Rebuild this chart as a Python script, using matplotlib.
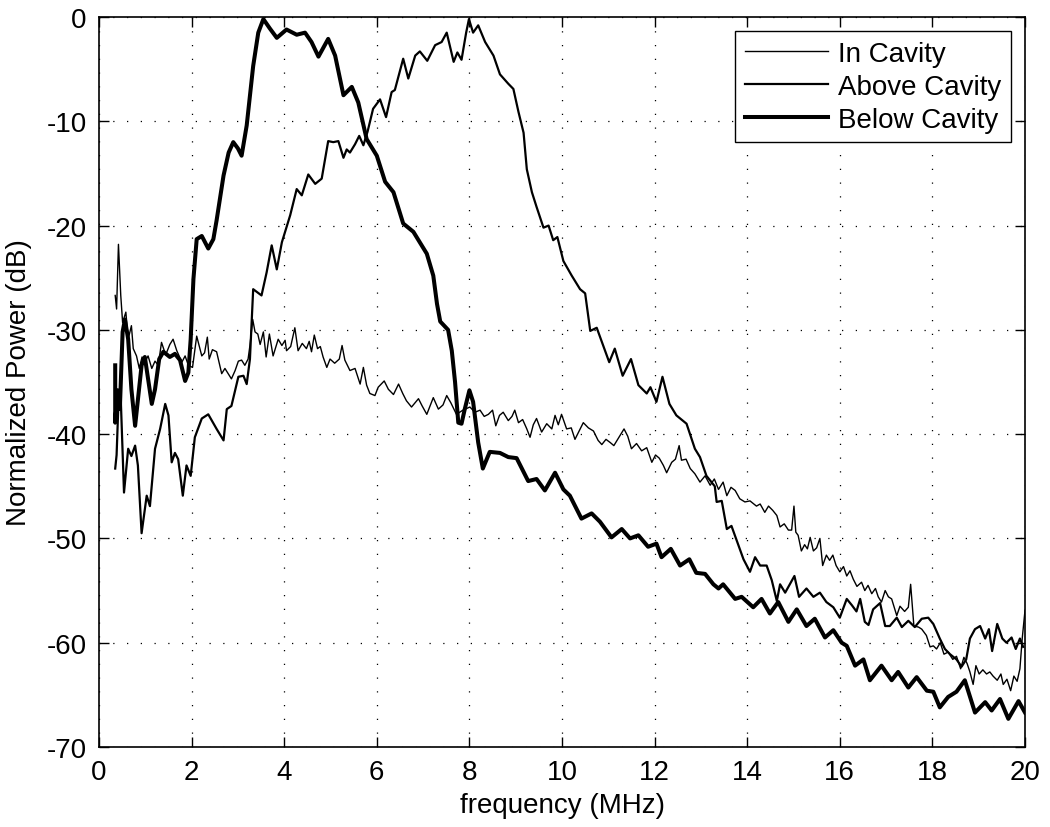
import matplotlib
matplotlib.use("Agg")
import matplotlib.pyplot as plt

plt.rcParams['font.family'] = ['Liberation Sans', 'DejaVu Sans']

# ---------------- data ----------------
freq_in = [0.35, 0.38, 0.42, 0.47, 0.51, 0.58, 0.63, 0.70, 0.74, 0.81, 0.87, 0.93, 0.99, 1.06, 1.14, 1.21,
           1.28, 1.35, 1.44, 1.53, 1.60, 1.68, 1.79, 1.86, 1.93, 2.02, 2.11, 2.22, 2.28, 2.34, 2.38, 2.45,
           2.54, 2.65, 2.72, 2.79, 2.86, 2.94, 3.01, 3.08, 3.15, 3.22, 3.26, 3.32, 3.37, 3.43, 3.48, 3.55,
           3.61, 3.68, 3.76, 3.87, 3.95, 4.02, 4.05, 4.14, 4.23, 4.30, 4.39, 4.48, 4.54, 4.59, 4.65, 4.72,
           4.78, 4.84, 4.92, 4.99, 5.09, 5.19, 5.25, 5.31, 5.42, 5.53, 5.64, 5.71, 5.78, 5.85, 5.96, 6.03,
           6.16, 6.25, 6.36, 6.47, 6.56, 6.64, 6.75, 6.90, 6.98, 7.08, 7.22, 7.33, 7.43, 7.51, 7.60, 7.72,
           7.86, 8.01, 8.12, 8.23, 8.32, 8.41, 8.50, 8.57, 8.65, 8.73, 8.84, 8.92, 8.98, 9.06, 9.15, 9.24,
           9.31, 9.38, 9.45, 9.56, 9.67, 9.78, 9.85, 9.92, 9.99, 10.10, 10.20, 10.28, 10.37, 10.46, 10.57,
           10.68, 10.78, 10.86, 10.95, 11.04, 11.12, 11.23, 11.34, 11.42, 11.50, 11.61, 11.72, 11.83, 11.94,
           12.02, 12.10, 12.19, 12.26, 12.37, 12.45, 12.53, 12.58, 12.68, 12.77, 12.87, 12.98, 13.09, 13.20,
           13.29, 13.38, 13.48, 13.56, 13.65, 13.74, 13.84, 13.95, 14.06, 14.20, 14.28, 14.38, 14.46, 14.55,
           14.64, 14.71, 14.80, 14.89, 14.96, 15.01, 15.05, 15.10, 15.17, 15.24, 15.30, 15.36, 15.43, 15.50,
           15.57, 15.63, 15.71, 15.78, 15.85, 15.92, 16.00, 16.08, 16.15, 16.22, 16.29, 16.37, 16.47, 16.54,
           16.61, 16.69, 16.77, 16.83, 16.90, 16.98, 17.05, 17.12, 17.23, 17.30, 17.40, 17.48, 17.53, 17.60,
           17.70, 17.77, 17.87, 17.95, 18.02, 18.09, 18.17, 18.25, 18.34, 18.44, 18.52, 18.61, 18.68, 18.75,
           18.81, 18.88, 18.94, 19.01, 19.09, 19.17, 19.24, 19.31, 19.40, 19.48, 19.53, 19.61, 19.69, 19.76,
           19.83, 19.89, 19.94, 20.00]
power_in = [-26.7, -28.0, -21.8, -26.7, -29.3, -28.3, -30.9, -29.6, -31.8, -32.5, -33.7, -32.6, -33.1, -32.5,
            -33.7, -33.0, -33.4, -31.2, -32.4, -31.4, -30.9, -32.0, -33.1, -32.5, -33.4, -33.6, -30.6, -32.5,
            -32.2, -30.7, -32.8, -31.9, -32.1, -34.2, -33.7, -34.2, -34.7, -33.9, -33.0, -32.9, -33.4, -32.8,
            -31.5, -29.0, -30.2, -30.4, -31.4, -30.2, -32.6, -30.4, -32.5, -30.9, -31.5, -31.0, -32.0, -31.6,
            -29.8, -32.0, -31.3, -31.8, -31.1, -32.1, -30.5, -31.8, -31.6, -32.6, -33.6, -32.8, -33.2, -32.8,
            -31.5, -32.9, -33.9, -33.7, -35.2, -33.6, -35.3, -36.1, -36.3, -35.5, -34.9, -35.7, -36.2, -35.2,
            -36.1, -36.8, -37.4, -36.6, -37.3, -38.1, -36.5, -37.6, -37.2, -36.3, -37.0, -38.1, -37.7, -37.4,
            -37.9, -37.7, -38.3, -38.1, -37.7, -39.2, -38.2, -37.9, -38.7, -38.3, -37.7, -38.9, -38.6, -39.5,
            -40.3, -39.1, -38.5, -39.8, -39.0, -39.5, -38.2, -39.1, -38.1, -39.5, -39.4, -40.5, -39.7, -38.9,
            -39.4, -39.7, -40.6, -41.0, -40.5, -40.8, -41.1, -40.3, -39.5, -40.2, -41.4, -40.9, -41.6, -41.3,
            -42.7, -42.0, -42.3, -43.0, -43.7, -42.7, -42.4, -41.1, -42.5, -42.4, -43.3, -43.8, -44.6, -44.0,
            -44.9, -44.3, -45.3, -44.6, -45.9, -45.1, -45.4, -46.2, -46.5, -46.4, -46.9, -46.7, -47.5, -46.9,
            -47.3, -47.8, -48.9, -48.6, -49.2, -49.2, -46.9, -49.4, -49.7, -51.2, -50.6, -51.0, -49.9, -51.2,
            -50.9, -50.0, -52.6, -51.6, -52.1, -51.6, -52.6, -53.2, -52.7, -53.6, -53.1, -53.9, -54.6, -54.2,
            -55.0, -54.5, -55.3, -54.8, -55.6, -56.1, -55.0, -55.6, -55.8, -57.4, -56.5, -57.0, -56.6, -54.4,
            -58.4, -58.5, -58.7, -59.3, -60.4, -60.3, -60.6, -60.0, -61.1, -60.9, -61.6, -61.3, -62.5, -61.4,
            -62.0, -62.8, -64.0, -62.2, -63.0, -62.6, -63.0, -62.8, -63.2, -63.6, -63.0, -64.0, -63.5, -64.6,
            -63.2, -63.7, -62.5, -59.6, -56.9]

freq_above = [0.35, 0.38, 0.42, 0.47, 0.54, 0.63, 0.70, 0.78, 0.84, 0.92, 1.03, 1.10, 1.21, 1.32, 1.43, 1.50,
              1.57, 1.64, 1.71, 1.81, 1.89, 1.98, 2.07, 2.22, 2.36, 2.54, 2.69, 2.76, 2.86, 2.94, 3.01, 3.12,
              3.19, 3.26, 3.30, 3.33, 3.51, 3.62, 3.73, 3.84, 3.95, 4.13, 4.27, 4.38, 4.52, 4.67, 4.81, 4.95,
              5.06, 5.17, 5.28, 5.35, 5.42, 5.53, 5.62, 5.71, 5.80, 5.92, 6.07, 6.20, 6.32, 6.39, 6.57, 6.68,
              6.83, 6.93, 7.09, 7.26, 7.40, 7.51, 7.66, 7.74, 7.83, 7.93, 7.99, 8.08, 8.19, 8.34, 8.52, 8.66,
              8.84, 8.95, 9.06, 9.17, 9.24, 9.35, 9.45, 9.60, 9.71, 9.81, 9.90, 10.03, 10.21, 10.39, 10.50,
              10.61, 10.75, 11.02, 11.14, 11.31, 11.49, 11.65, 11.83, 11.91, 12.04, 12.17, 12.32, 12.47, 12.69,
              12.87, 12.98, 13.12, 13.30, 13.34, 13.45, 13.56, 13.66, 13.92, 14.06, 14.17, 14.28, 14.42, 14.53,
              14.64, 14.71, 14.82, 15.02, 15.12, 15.28, 15.43, 15.57, 15.71, 15.86, 16.00, 16.15, 16.26, 16.36,
              16.44, 16.54, 16.62, 16.72, 16.87, 16.98, 17.08, 17.23, 17.34, 17.48, 17.62, 17.77, 17.91, 18.02,
              18.16, 18.27, 18.38, 18.52, 18.63, 18.73, 18.81, 18.92, 19.03, 19.14, 19.22, 19.29, 19.40, 19.51,
              19.60, 19.71, 19.80, 19.89, 19.96]
power_above = [-43.3, -42.0, -37.0, -36.6, -45.6, -41.4, -42.1, -41.1, -43.0, -49.5, -45.9, -46.9, -41.4, -39.5,
               -37.1, -38.2, -42.7, -41.8, -42.4, -45.9, -43.0, -44.0, -40.3, -38.5, -38.1, -39.5, -40.6, -37.6,
               -37.3, -35.8, -34.5, -34.4, -35.2, -32.8, -29.0, -26.1, -26.7, -24.5, -21.9, -24.2, -21.6, -19.0,
               -16.5, -17.1, -15.1, -16.0, -15.5, -11.9, -12.0, -11.9, -13.5, -12.7, -13.0, -12.2, -11.4, -12.3,
               -11.0, -8.8, -7.9, -9.6, -7.2, -7.0, -4.0, -5.9, -3.7, -3.3, -4.2, -2.7, -2.4, -1.5, -4.3, -3.4,
               -4.1, -1.5, -0.2, -1.5, -0.8, -2.4, -3.7, -5.5, -6.4, -6.9, -9.1, -11.1, -14.6, -16.8, -18.2,
               -20.2, -20.0, -21.4, -21.1, -23.4, -24.8, -26.1, -26.5, -30.1, -29.8, -33.1, -31.8, -34.4, -32.8,
               -35.3, -36.1, -35.5, -36.9, -34.5, -37.1, -38.2, -39.0, -41.4, -42.2, -44.0, -45.0, -46.5, -46.4,
               -49.1, -48.8, -52.0, -53.2, -51.8, -52.6, -52.6, -54.0, -56.0, -54.4, -55.2, -53.6, -55.6, -54.8,
               -55.6, -55.2, -56.1, -56.6, -57.6, -55.8, -56.4, -57.0, -55.8, -58.0, -58.3, -56.8, -56.2, -58.4,
               -58.4, -57.6, -58.5, -57.9, -58.5, -57.7, -57.6, -58.2, -59.6, -60.6, -61.1, -61.6, -62.3, -61.6,
               -59.6, -58.7, -58.4, -59.6, -58.7, -60.8, -58.2, -59.6, -60.0, -59.5, -60.6, -59.6, -60.4]

freq_below = [0.35, 0.35, 0.40, 0.45, 0.51, 0.56, 0.63, 0.70, 0.78, 0.85, 0.92, 0.99, 1.06, 1.14, 1.21, 1.30,
              1.39, 1.53, 1.64, 1.75, 1.86, 1.93, 1.98, 2.04, 2.11, 2.22, 2.36, 2.47, 2.54, 2.69, 2.80, 2.90,
              3.00, 3.08, 3.19, 3.33, 3.44, 3.55, 3.69, 3.84, 4.05, 4.27, 4.45, 4.59, 4.74, 4.95, 5.10, 5.28,
              5.46, 5.60, 5.78, 6.00, 6.18, 6.36, 6.57, 6.79, 7.08, 7.22, 7.30, 7.37, 7.54, 7.62, 7.69, 7.76,
              7.83, 7.90, 8.00, 8.08, 8.19, 8.29, 8.44, 8.66, 8.84, 9.02, 9.27, 9.45, 9.63, 9.85, 10.03, 10.17,
              10.42, 10.64, 10.82, 11.07, 11.29, 11.47, 11.65, 11.86, 12.04, 12.15, 12.35, 12.55, 12.75, 12.90,
              13.09, 13.27, 13.38, 13.48, 13.74, 13.88, 14.13, 14.31, 14.49, 14.67, 14.89, 15.07, 15.28, 15.46,
              15.68, 15.86, 16.04, 16.15, 16.33, 16.51, 16.65, 16.90, 17.12, 17.26, 17.48, 17.66, 17.88, 18.02,
              18.16, 18.34, 18.52, 18.70, 18.92, 19.14, 19.28, 19.46, 19.64, 19.86, 20.00]
power_below = [-33.4, -38.9, -35.8, -37.6, -30.2, -29.0, -30.9, -35.7, -39.2, -36.3, -33.4, -32.6, -34.7, -37.1,
               -35.7, -32.8, -32.1, -32.6, -32.3, -32.9, -34.9, -34.1, -30.9, -25.1, -21.3, -21.0, -22.2, -21.3,
               -19.5, -15.2, -13.0, -12.0, -12.6, -13.3, -10.4, -4.7, -1.5, -0.2, -1.1, -2.0, -1.2, -1.7, -1.5,
               -2.4, -3.8, -2.1, -3.7, -7.5, -6.7, -8.2, -11.7, -13.3, -15.8, -16.8, -19.8, -20.6, -22.7, -24.8,
               -27.5, -29.2, -30.0, -32.0, -35.0, -38.9, -39.0, -37.6, -35.8, -36.9, -40.8, -43.3, -41.7, -41.8,
               -42.2, -42.3, -44.5, -44.3, -45.4, -43.7, -45.3, -45.9, -48.1, -47.6, -48.4, -49.9, -49.1, -50.0,
               -49.7, -50.8, -50.5, -51.8, -51.0, -52.6, -52.0, -53.3, -53.4, -54.4, -54.8, -54.4, -55.8, -55.6,
               -56.6, -55.8, -57.2, -56.1, -58.0, -56.8, -58.4, -57.7, -59.5, -58.8, -60.0, -60.3, -62.2, -61.6,
               -63.6, -62.2, -63.6, -62.8, -64.3, -63.3, -64.6, -64.7, -66.2, -65.2, -64.7, -63.6, -66.7, -65.7,
               -66.5, -65.4, -67.3, -65.6, -66.7]

series_labels = ["In Cavity", "Above Cavity", "Below Cavity"]
x_ticks = [0, 2, 4, 6, 8, 10, 12, 14, 16, 18, 20]
y_ticks = [-70, -60, -50, -40, -30, -20, -10, 0]

# ---------------- figure ----------------
fig = plt.figure(figsize=(10.5, 8.28), dpi=100)
ax = fig.add_axes([99 / 1050, 1 - 748 / 828, 926 / 1050, 730 / 828])

ax.plot(freq_in, power_in, color='black', lw=1.0, label=series_labels[0], solid_joinstyle='round')
ax.plot(freq_above, power_above, color='black', lw=1.6, label=series_labels[1], solid_joinstyle='round')
ax.plot(freq_below, power_below, color='black', lw=2.9, label=series_labels[2], solid_joinstyle='round')

ax.set_xlim(0, 20)
ax.set_ylim(-70, 0)
ax.set_xticks(x_ticks)
ax.set_yticks(y_ticks)
ax.set_xticklabels([str(t) for t in x_ticks])
ax.set_yticklabels([str(t) for t in y_ticks])

ax.grid(True, linestyle=(0, (1, 10)), color='black', linewidth=0.9)
ax.tick_params(direction='in', length=7, width=1, top=True, right=True,
               labelsize=20, pad=9)
for sp in ax.spines.values():
    sp.set_linewidth(1.2)

ax.set_xlabel('frequency (MHz)', fontsize=20, labelpad=5)
ax.set_ylabel('Normalized Power (dB)', fontsize=20, labelpad=10)

leg = ax.legend(loc='upper right', fontsize=20, frameon=True, fancybox=False,
                edgecolor='black', framealpha=1, handlelength=3.0, handletextpad=0.35,
                labelspacing=0.25, borderpad=0.35, borderaxespad=0.5)
leg.get_frame().set_linewidth(1.0)

fig.savefig('out.png', dpi=100)
